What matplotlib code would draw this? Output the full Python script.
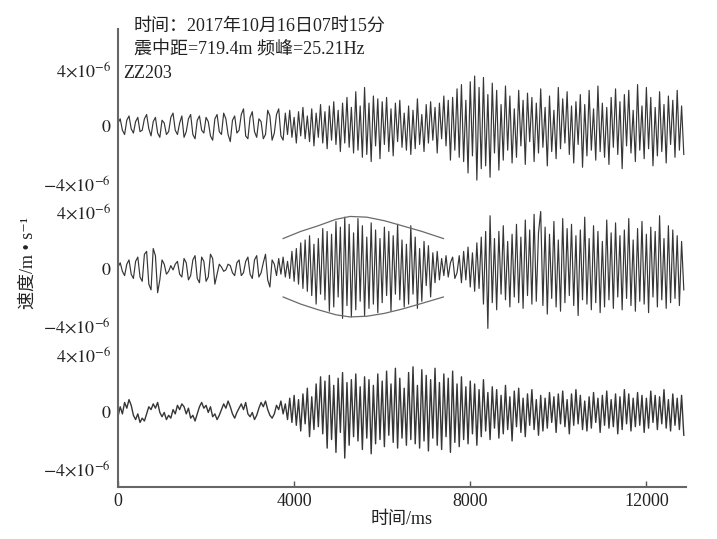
import numpy as np
import matplotlib
matplotlib.use('Agg')
import matplotlib.pyplot as plt

plt.rcParams['font.family'] = ['Liberation Serif', 'Noto Sans CJK SC', 'DejaVu Serif']
plt.rcParams['mathtext.fontset'] = 'stix'

# sample step of the read-off peaks/troughs (ms)
dt = 50

# peak / trough values, in units of 1e-7 m/s
trace1 = [
    2, 5, -3, -6, 4, 7, -2, -5, 3, 6, -4, -3,
    5, 8, -2, -7, 3, 6, -5, -8, 4, 2, -6, -4,
    6, 9, -3, -6, 2, 7, -8, -4, 5, 8, -6, -9,
    4, 7, -3, -5, 6, 3, -7, -10, 5, 8, -4, -6,
    9, 5, -6, -11, 4, 7, -5, -3, 8, 12, -7, -9,
    6, 10, -4, -8, 5, 3, -9, -6, 11, 7, -10, -5,
    8, 12, -7, -10, 9, -6, 11, -8, 6, -12, 10, -7,
    13, -9, 7, -11, 12, -14, 9, -8, 15, -12, 10, -16,
    14, -10, 17, -13, 11, -18, 16, -12, 20, -15, 13, -19,
    24, -17, 14, -22, 27, -20, 16, -25, 21, -14, 19, -23,
    17, -13, 20, -18, 12, -21, 16, -11, 18, -15, 9, -17,
    14, -20, 11, -16, 19, -13, 8, -18, 15, -12, 17, -10,
    13, -19, 16, -9, 21, -14, 18, -24, 20, -17, 26, -22,
    29, -25, 18, -33, 31, -21, 35, -38, 27, -30, 34, -28,
    22, -36, 30, -19, 25, -31, 15, -24, 28, -17, 21, -26,
    12, -22, 25, -14, 18, -27, 23, -11, 20, -25, 16, -19,
    26, -15, 13, -28, 21, -18, 11, -23, 27, -16, 19, -12,
    24, -20, 14, -26, 17, -13, 22, -29, 15, -21, 25, -17,
    12, -24, 28, -18, 16, -22, 13, -27, 20, -15, 26, -20,
    17, -30, 22, -14, 25, -19, 11, -25, 29, -17, 14, -23,
    27, -16, 20, -28, 13, -21, 24, -18, 15, -26, 21, -13,
    18, -22, 25, -17, 14, -20,
]

trace2 = [
    1, 4, -2, -5, 3, 6, -4, -7, 5, 8, -6, -9,
    10, 12, -11, -15, 14, 9, -17, -8, 6, 3, -4, -2,
    2, -1, 3, 5, -4, -6, 7, 4, -8, -5, 6, 9,
    -7, -10, 8, 5, -9, -6, 10, 7, -11, -4, 3, 1,
    -2, -1, 3, 2, -3, -5, 4, 6, -5, -3, 5, 8,
    -4, -7, 6, 9, -6, -3, 4, 10, -8, -13, 6, 3,
    -5, 7, -4, 8, -6, 5, -7, 12, -9, 14, -11, 18,
    -14, 20, -16, 23, -19, 17, -25, 21, -18, 28, -22, 26,
    -30, 24, -27, 33, -20, 29, -35, 36, -26, 31, -34, 25,
    -29, 35, -23, 30, -33, 22, -28, 32, -25, 27, -31, 21,
    -24, 29, -19, 26, -30, 23, -18, 31, -22, 20, -27, 17,
    -25, 30, -18, 22, -28, 14, -23, 19, -12, 16, -20, 11,
    -10, 12, -8, 7, -5, 9, -6, 4, 8, -7, -3, 9,
    -10, 12, -8, 15, -13, 11, -16, 18, -14, 22, -25, 26,
    -42, 37, -24, 21, -29, 26, -18, 30, -22, 19, -27, 24,
    -20, 31, -24, 22, -28, 34, -19, 27, -25, 38, -23, 25,
    40, -26, 29, -32, 24, -21, 33, -27, 20, -30, 35, -24,
    28, -19, 31, -26, 23, -33, 27, -22, 36, -25, 21, -29,
    30, -24, 26, -31, 19, -27, 34, -22, 25, -28, 32, -20,
    23, -29, 27, -21, 35, -26, 20, -30, 28, -23, 33, -25,
    24, -31, 29, -20, 26, -27, 37, -22, 21, -28, 30, -24,
    27, -21, 23, -26, 19, -15,
]

trace3 = [
    -4, 3, -2, 6, 2, 8, 4, -3, -6, -2, -8, -5,
    -7, -2, 3, 1, 5, 2, 6, -1, -4, -1, -6, -3,
    -5, 1, -2, 4, 1, 5, 3, -2, 2, -5, -3, -7,
    -2, 3, 6, 2, 4, -1, 3, -4, -2, -6, -3, 1,
    5, 2, 7, 3, -2, -5, -1, 2, 5, 1, 6, -2,
    -4, -1, -6, -3, 2, 6, 3, 7, 1, -3, -5, -2,
    4, 1, 7, -2, 5, -6, 9, -8, 11, -10, 8, -14,
    12, -9, 16, -18, 10, -13, 19, -11, 24, -16, 21, -26,
    25, -20, 18, -29, 23, -15, 27, -33, 20, -24, 22, -18,
    26, -21, 17, -27, 24, -19, 22, -30, 18, -23, 26, -20,
    21, -25, 28, -17, 19, -22, 30, -26, 23, -19, 16, -24,
    27, -20, 31, -23, 18, -26, 29, -21, 25, -28, 22, -19,
    30, -24, 20, -27, 26, -18, 23, -29, 28, -22, 19, -25,
    24, -20, 17, -23, 21, -16, 19, -24, 15, -18, 22, -14,
    13, -20, 17, -12, 15, -19, 11, -16, 18, -13, 10, -21,
    14, -11, 16, -15, 9, -18, 12, -10, 15, -13, 8, -17,
    11, -14, 9, -12, 13, -8, 10, -15, 12, -9, 14, -11,
    8, -16, 12, -10, 15, -9, 11, -13, 7, -14, 10, -12,
    13, -8, 9, -15, 11, -10, 14, -12, 8, -11, 12, -16,
    10, -13, 15, -9, 12, -14, 9, -11, 13, -10, 11, -15,
    9, -12, 14, -8, 11, -13, 10, -9, 15, -12, 8, -14,
    12, -10, 9, -13, 11, -17,
]

# envelope drawn round the burst of the middle trace (ms, 1e-6 m/s)
env_t = [3750, 4150, 4550, 4950, 5270, 5650, 6050, 6450, 6900, 7390]
env_up = [2.1, 2.6, 3.0, 3.45, 3.65, 3.6, 3.35, 3.0, 2.6, 2.1]
env_lo = [-2.0, -2.5, -2.9, -3.25, -3.4, -3.35, -3.15, -2.85, -2.45, -2.0]

offsets = [20, 10, 0]
tick_vals = [-4, 0, 4]
tick_text = {-4: r'$-4{\times}10^{-6}$', 0: r'$0$', 4: r'$4{\times}10^{-6}$'}

fig = plt.figure(figsize=(7.17, 5.39), dpi=100)
ax = fig.add_axes([118/717, 1-487/539, (686-118)/717, (487-29)/539])

for tr, off, lw in zip([trace1, trace2, trace3], offsets, [0.85, 0.85, 1.0]):
    v = np.array(tr) / 10.0
    t = np.arange(len(v)) * dt
    ax.plot(t, v + off, color='#363636', lw=lw)

ax.plot(env_t, np.array(env_up) + offsets[1], color='#6a6a6a', lw=0.9)
ax.plot(env_t, np.array(env_lo) + offsets[1], color='#6a6a6a', lw=0.9)

ax.set_xlim(0, 12900)
ax.set_ylim(-5.33, 26.8)

yt, yl = [], []
for off in offsets:
    for v in tick_vals:
        yt.append(off + v)
        yl.append(tick_text[v])
ax.set_yticks(yt)
ax.set_yticklabels(yl, fontsize=13, color='#222222')
ax.set_xticks([0, 4000, 8000, 12000])
ax.set_xticklabels(['0', '4000', '8000', '12000'], fontsize=13, color='#222222')
ax.tick_params(axis='y', length=0, pad=5)
ax.tick_params(axis='x', direction='in', length=4, width=1, color='#555555', pad=4)

for s in ['top', 'right']:
    ax.spines[s].set_visible(False)
for s in ['left', 'bottom']:
    ax.spines[s].set_color('#666666')
    ax.spines[s].set_linewidth(1.5)

ax.set_xlabel('时间/ms', fontsize=13, color='#222222', labelpad=1)
fig.text(28/717, 1-263/539, '速度/m • s⁻¹', rotation=90, fontsize=13,
         color='#222222', ha='center', va='center')

fig.text(134/717, 1-26/539, '时间：2017年10月16日07时15分', fontsize=13,
         color='#222222', va='center')
fig.text(134/717, 1-50/539, '震中距=719.4m 频峰=25.21Hz', fontsize=13,
         color='#222222', va='center')
fig.text(123/717, 1-73/539, 'ZZ203', fontsize=13, color='#222222', va='center')

fig.savefig('out.png', dpi=100, facecolor='white')
